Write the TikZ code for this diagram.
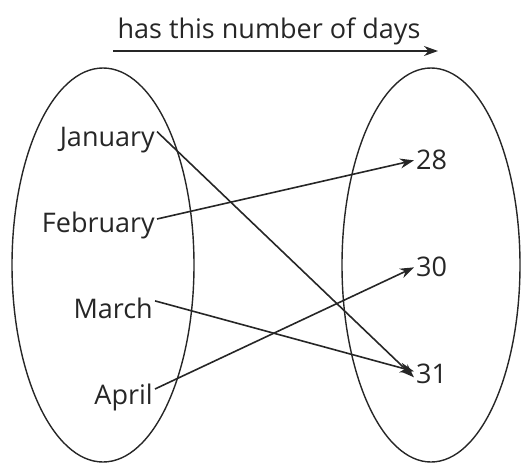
\documentclass[tikz,border=0pt]{standalone}
\usepackage{fontspec}
\setmainfont{Open Sans}
\usetikzlibrary{arrows.meta}
\begin{document}
\begin{tikzpicture}[x=1pt,y=-1pt,
  lbl/.style={font=\fontsize{27}{32}\selectfont, inner sep=2pt, text=black!85},
  conn/.style={line width=1.6pt, draw=black!85, -{Stealth[length=14pt,width=10pt]}},
  oval/.style={line width=1.4pt, draw=black!85}]
\useasboundingbox (0,0) rectangle (522,464);
\draw[oval] (103,265) ellipse [x radius=91, y radius=197];
\draw[oval] (431,265) ellipse [x radius=89, y radius=197];
\node[lbl, anchor=base] (title) at (269,38) {has this number of days};
\coordinate (ts) at (113,51);
\coordinate (te) at (438,51);
\draw[conn] (ts) -- (te);
\node[lbl, anchor=base east] (jan) at (157,146) {January};
\node[lbl, anchor=base east] (feb) at (157,232) {February};
\node[lbl, anchor=base east] (mar) at (155,318) {March};
\node[lbl, anchor=base east] (apr) at (155,404) {April};
\node[lbl, anchor=base west] (d28) at (414,169) {28};
\node[lbl, anchor=base west] (d30) at (414,276) {30};
\node[lbl, anchor=base west] (d31) at (414,383) {31};
\draw[conn] (jan.east) ++(0,-8) -- ([yshift=-4]d31.west);
\draw[conn] (feb.east) ++(0,-6) -- ([yshift=-1]d28.west);
\draw[conn] (mar.east) ++(0,-7) -- ([yshift=2]d31.west);
\draw[conn] (apr.east) ++(0,-8) -- ([yshift=-1]d30.west);
\end{tikzpicture}
\end{document}
